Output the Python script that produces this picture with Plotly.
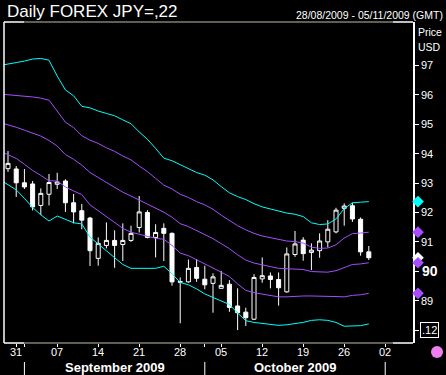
import plotly.graph_objects as go
import pandas as pd

# ---------------- data ----------------
candle_dates = pd.bdate_range("2009-08-28", "2009-10-29")
band_dates = pd.bdate_range("2009-08-27", "2009-10-29")

open_ = [93.49, 93.48, 93.01, 92.97, 92.24, 92.62, 92.96, 93.07, 92.33, 92.06,
         91.81, 90.44, 90.88, 91.05, 90.91, 91.05, 91.49, 92.00, 91.15, 91.46,
         91.29, 89.65, 89.64, 90.13, 89.73, 89.59, 89.42, 89.56, 88.82, 88.61,
         88.37, 89.74, 89.84, 89.72, 89.30, 90.57, 91.06, 90.64, 90.70, 91.00,
         91.34, 92.14, 92.23, 91.77, 90.66]
high = [94.09, 93.58, 93.48, 93.07, 92.82, 93.31, 93.35, 93.13, 92.63, 92.29,
        91.85, 91.15, 91.66, 91.39, 91.63, 91.55, 92.56, 92.08, 91.60, 91.63,
        91.32, 89.79, 90.40, 90.41, 90.19, 89.93, 90.01, 89.70, 89.42, 88.76,
        89.90, 90.47, 89.96, 89.96, 90.81, 91.37, 91.16, 90.95, 91.29, 91.74,
        92.16, 92.31, 92.33, 91.83, 90.86]
low = [93.38, 92.53, 92.80, 92.07, 91.91, 92.24, 92.80, 92.02, 91.63, 91.43,
       90.18, 90.19, 90.78, 90.12, 90.35, 91.00, 91.32, 91.12, 90.47, 90.35,
       89.51, 88.23, 89.61, 89.64, 89.39, 88.59, 89.42, 88.62, 88.00, 88.14,
       88.34, 89.61, 89.42, 88.83, 89.27, 90.49, 90.36, 90.04, 90.46, 90.81,
       91.29, 91.55, 91.68, 90.53, 90.38]
close = [93.67, 93.01, 92.87, 92.19, 92.65, 93.02, 93.04, 92.33, 92.02, 91.74,
         90.70, 90.95, 91.05, 90.88, 91.05, 91.29, 92.02, 91.15, 91.32, 91.29,
         89.64, 89.63, 90.10, 89.76, 89.54, 89.81, 89.52, 88.77, 88.59, 88.42,
         89.79, 89.85, 89.72, 89.44, 90.59, 90.93, 90.60, 90.72, 91.03, 91.43,
         92.08, 92.22, 91.78, 90.66, 90.46]

band_outer_upper = [97.00, 97.04, 97.10, 97.15, 97.22, 97.24, 97.18, 96.64, 96.17, 95.97,
                    95.61, 95.56, 95.45, 95.37, 95.29, 95.15, 95.02, 94.74, 94.49, 94.18,
                    93.85, 93.76, 93.62, 93.50, 93.36, 93.27, 93.11, 92.88, 92.67, 92.54,
                    92.44, 92.30, 92.19, 92.12, 92.04, 91.98, 91.94, 91.86, 91.65, 91.59,
                    91.61, 91.78, 92.13, 92.33, 92.35, 92.37]
band_inner_upper = [96.03, 96.01, 95.97, 95.96, 95.93, 95.89, 95.82, 95.45, 95.07, 94.89,
                    94.61, 94.46, 94.35, 94.20, 94.08, 93.92, 93.79, 93.58, 93.39, 93.16,
                    92.93, 92.80, 92.62, 92.51, 92.37, 92.26, 92.11, 91.91, 91.72, 91.55,
                    91.41, 91.29, 91.20, 91.14, 91.07, 91.03, 91.01, 90.96, 90.82, 90.78,
                    90.79, 90.90, 91.13, 91.28, 91.30, 91.33]
band_middle = [95.06, 94.99, 94.90, 94.80, 94.69, 94.60, 94.45, 94.26, 93.97, 93.81,
               93.61, 93.36, 93.19, 93.03, 92.87, 92.69, 92.56, 92.42, 92.29, 92.14,
               92.01, 91.84, 91.62, 91.52, 91.38, 91.25, 91.11, 90.94, 90.77, 90.56,
               90.38, 90.28, 90.21, 90.16, 90.10, 90.08, 90.08, 90.06, 89.99, 89.97,
               89.97, 90.02, 90.13, 90.23, 90.25, 90.29]
band_inner_lower = [94.09, 93.97, 93.84, 93.64, 93.43, 93.26, 93.08, 93.07, 92.87, 92.73,
                    92.61, 92.26, 92.06, 91.86, 91.66, 91.46, 91.33, 91.26, 91.19, 91.12,
                    91.09, 90.88, 90.62, 90.53, 90.39, 90.24, 90.11, 89.97, 89.82, 89.57,
                    89.35, 89.27, 89.22, 89.18, 89.13, 89.13, 89.15, 89.16, 89.16, 89.16,
                    89.15, 89.14, 89.13, 89.18, 89.20, 89.25]
band_outer_lower = [93.12, 92.95, 92.77, 92.48, 92.17, 91.92, 91.71, 91.88, 91.77, 91.65,
                    91.61, 91.16, 90.93, 90.69, 90.45, 90.23, 90.10, 90.10, 90.09, 90.10,
                    90.17, 89.92, 89.62, 89.54, 89.40, 89.23, 89.11, 89.00, 88.87, 88.58,
                    88.32, 88.26, 88.23, 88.20, 88.16, 88.18, 88.22, 88.26, 88.33, 88.35,
                    88.33, 88.26, 88.13, 88.13, 88.15, 88.21]

x_tick_dates = ["2009-08-31", "2009-09-01", "2009-09-07", "2009-09-14", "2009-09-21",
                "2009-09-28", "2009-10-01", "2009-10-05", "2009-10-12", "2009-10-19",
                "2009-10-26", "2009-11-02"]
x_tick_labels = ["31", "", "07", "14", "21", "28", "", "05", "12", "19", "26", "02"]
y_tick_vals = [88, 89, 90, 91, 92, 93, 94, 95, 96, 97]
y_tick_labels = ["", "89", "", "91", "92", "93", "94", "95", "96", "97"]
month_labels = ["September 2009", "October 2009"]
month_label_dates = ["2009-09-16", "2009-10-16"]
month_bounds = ["2009-09-01", "2009-10-01", "2009-11-02"]

# ---------------- styling / layout ----------------
W, H = 446, 375
PL, PR = 4, 446          # paper (plotting region) left / right in pixels
AX = 413                 # price axis position in pixels
T, B = 22, 343
CYAN = "#00ffff"
PURPLE = "#a64dff"
GREY = "#7f7f70"
FONT = "Liberation Sans, Arial, sans-serif"


def fx(px):
    return (px - PL) / (PR - PL)


def fy(py):
    return (B - py) / (B - T)


fig = go.Figure()
for vals, col in [(band_outer_upper, CYAN), (band_inner_upper, PURPLE), (band_middle, PURPLE),
                  (band_inner_lower, PURPLE), (band_outer_lower, CYAN)]:
    fig.add_trace(go.Scatter(x=band_dates, y=vals, mode="lines",
                             line=dict(color=col, width=1), hoverinfo="skip",
                             showlegend=False))

fig.add_trace(go.Candlestick(
    x=candle_dates, open=open_, high=high, low=low, close=close,
    increasing=dict(line=dict(color="white", width=1), fillcolor="black"),
    decreasing=dict(line=dict(color="white", width=1), fillcolor="white"),
    showlegend=False, hoverinfo="skip"))

# last-value markers beside the price axis (own narrow x-axis strip right of the plot)
marker_vals = [band_outer_upper[-1], band_inner_upper[-1], close[-1], band_middle[-1], band_inner_lower[-1]]
marker_cols = [CYAN, PURPLE, "white", PURPLE, PURPLE]
fig.add_trace(go.Scatter(x=[418] * len(marker_vals), y=marker_vals, xaxis="x2", yaxis="y",
                         mode="markers", cliponaxis=False,
                         marker=dict(symbol="diamond", size=9, color=marker_cols, line=dict(width=0)),
                         hoverinfo="skip", showlegend=False))

shapes = []
# frame
shapes.append(dict(type="line", xref="paper", yref="paper", x0=0, x1=0, y0=0, y1=1,
                   line=dict(color="white", width=1.5)))
for yy in (0, 1):
    shapes.append(dict(type="line", xref="paper", yref="paper", x0=0, x1=fx(24), y0=yy, y1=yy,
                       line=dict(color="white", width=1.5)))
    shapes.append(dict(type="line", xref="paper", yref="paper", x0=fx(24), x1=fx(393), y0=yy, y1=yy,
                       line=dict(color=GREY, width=1.5)))
    shapes.append(dict(type="line", xref="paper", yref="paper", x0=fx(393), x1=fx(AX), y0=yy, y1=yy,
                       line=dict(color="white", width=1.5)))
for d in month_bounds:
    shapes.append(dict(type="line", xref="x", yref="paper", x0=d, x1=d, y0=fy(362), y1=fy(376),
                       line=dict(color="white", width=1)))
shapes.append(dict(type="circle", xref="paper", yref="paper", x0=fx(431), x1=fx(443),
                   y0=fy(358), y1=fy(346), fillcolor="#f080f0", line=dict(width=0)))

annotations = [
    dict(text="Daily FOREX JPY=,22", xref="paper", yref="paper", x=fx(5), y=fy(11),
         xanchor="left", yanchor="middle", showarrow=False,
         font=dict(family=FONT, size=17, color="white")),
    dict(text="28/08/2009 - 05/11/2009 (GMT)", xref="paper", yref="paper", x=fx(445), y=fy(15),
         xanchor="right", yanchor="middle", showarrow=False,
         font=dict(family=FONT, size=10.5, color="white")),
    dict(text="Price", xref="paper", yref="paper", x=fx(416), y=fy(32),
         xanchor="left", yanchor="middle", showarrow=False,
         font=dict(family=FONT, size=10.5, color="white")),
    dict(text="USD", xref="paper", yref="paper", x=fx(416), y=fy(47),
         xanchor="left", yanchor="middle", showarrow=False,
         font=dict(family=FONT, size=10.5, color="white")),
    dict(text="<b>90</b>", xref="paper", yref="y", x=fx(420), y=90,
         xanchor="left", yanchor="middle", showarrow=False,
         font=dict(family=FONT, size=14, color="white")),
    dict(text=".12", xref="paper", yref="y", x=fx(420), y=88,
         xanchor="left", yanchor="middle", showarrow=False,
         bordercolor="white", borderwidth=1, borderpad=1,
         font=dict(family=FONT, size=11, color="white")),
]
for lab, d in zip(x_tick_labels, x_tick_dates):
    if lab:
        annotations.append(dict(text=lab, xref="x", yref="paper", x=d, y=fy(352),
                                xanchor="center", yanchor="middle", showarrow=False,
                                font=dict(family=FONT, size=11, color="white")))
for lab, d in zip(month_labels, month_label_dates):
    annotations.append(dict(text="<b>" + lab + "</b>", xref="x", yref="paper", x=d, y=fy(368),
                            xanchor="center", yanchor="middle", showarrow=False,
                            font=dict(family=FONT, size=13, color="white")))

fig.update_layout(
    width=W, height=H,
    margin=dict(l=PL, r=W - PR, t=T, b=H - B, pad=0),
    paper_bgcolor="black", plot_bgcolor="black",
    showlegend=False,
    font=dict(family=FONT, color="white"),
    xaxis=dict(type="date", domain=[0, fx(AX)],
               range=["2009-08-27 12:15", "2009-11-05 09:20"],
               rangebreaks=[dict(bounds=["sat", "mon"])],
               rangeslider=dict(visible=False),
               tickmode="array", tickvals=x_tick_dates, ticktext=[""] * len(x_tick_dates),
               ticks="outside", ticklen=3, tickcolor="white", tickwidth=1,
               showgrid=False, zeroline=False, showline=False, fixedrange=True),
    xaxis2=dict(domain=[fx(AX), 1], anchor="y", range=[AX, PR], visible=False, fixedrange=True),
    yaxis=dict(side="right", anchor="x", range=[87.56, 98.48],
               tickmode="array", tickvals=y_tick_vals, ticktext=y_tick_labels,
               ticks="outside", ticklen=4, tickcolor="white", tickwidth=1,
               tickfont=dict(family=FONT, size=11, color="white"),
               showline=True, linecolor="white", linewidth=1.5,
               showgrid=False, zeroline=False, fixedrange=True),
    shapes=shapes,
    annotations=annotations,
)

fig.write_html("out.html", config={"displayModeBar": False},
               post_script="document.body.style.margin='0';document.body.style.background='black';")
